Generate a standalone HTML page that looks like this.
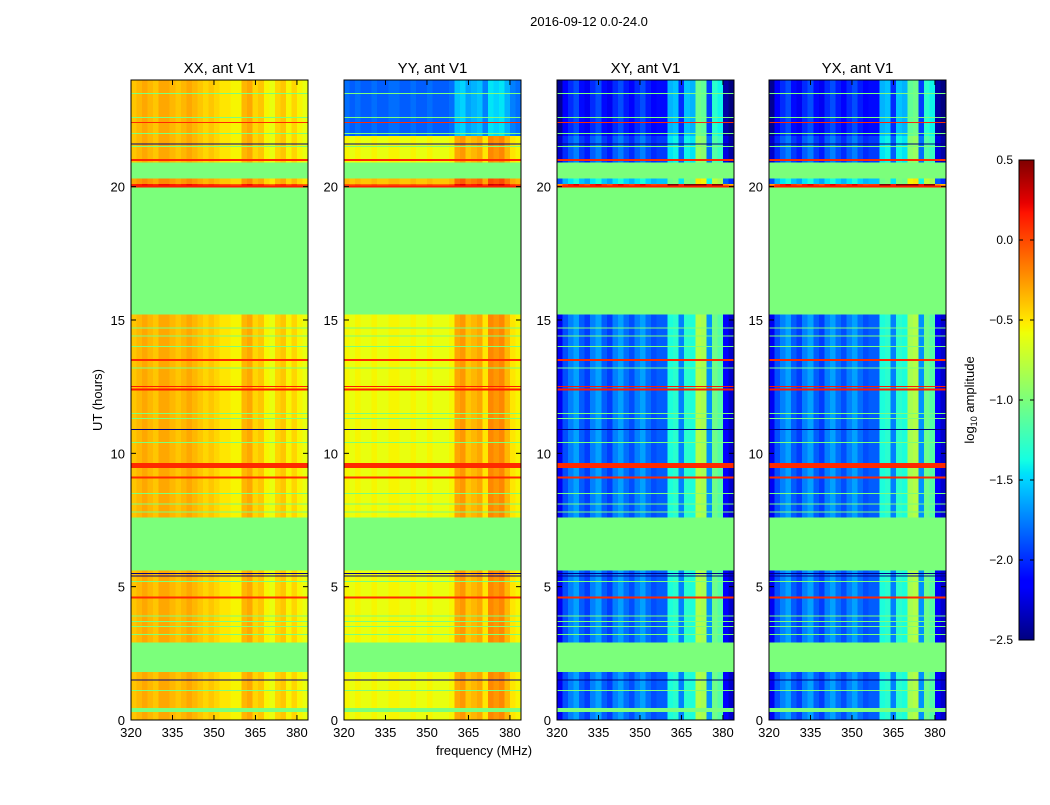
<!DOCTYPE html>
<html><head><meta charset="utf-8">
<style>
html,body{margin:0;padding:0;background:#fff;}
svg text{font-family:"Liberation Sans","DejaVu Sans",sans-serif;fill:#000;}
</style></head>
<body>
<svg id="fig" xmlns="http://www.w3.org/2000/svg" width="1050" height="800" viewBox="0 0 1050 800">
<rect width="1050" height="800" fill="#fff"/>
<text x="589" y="26" font-size="13" text-anchor="middle">2016-09-12 0.0-24.0</text>
<text x="484" y="755" font-size="13" text-anchor="middle">frequency (MHz)</text>
<text transform="translate(102,400) rotate(-90)" font-size="13" text-anchor="middle">UT (hours)</text>
<text transform="translate(974,400) rotate(-90)" font-size="13" text-anchor="middle">log<tspan font-size="9" dy="3">10</tspan><tspan dy="-3"> amplitude</tspan></text>
<g id="panels"></g>
<g id="cbar"></g>
</svg>
<script>
// ---- data ----
const panelTitles = ["XX, ant V1","YY, ant V1","XY, ant V1","YX, ant V1"];
const freqBins = [320,322,324,326,328,330,332,334,336,338,340,342,344,346,348,350,352,354,356,358,360,362,364,366,368,370,372,374,376,378,380,382];
const profileXX = [-0.4,-0.35,-0.3,-0.35,-0.4,-0.3,-0.3,-0.35,-0.4,-0.35,-0.3,-0.35,-0.4,-0.45,-0.4,-0.45,-0.5,-0.5,-0.55,-0.55,-0.35,-0.3,-0.45,-0.4,-0.55,-0.6,-0.45,-0.4,-0.55,-0.45,-0.55,-0.6];
const profileYY = [-0.55,-0.6,-0.55,-0.6,-0.6,-0.55,-0.6,-0.6,-0.55,-0.55,-0.6,-0.6,-0.55,-0.6,-0.6,-0.55,-0.6,-0.6,-0.6,-0.55,-0.3,-0.25,-0.4,-0.35,-0.3,-0.5,-0.2,-0.25,-0.2,-0.35,-0.5,-0.55];
const profileXY = [-2.2,-1.9,-1.75,-1.65,-1.85,-1.95,-1.75,-1.65,-1.85,-1.95,-1.75,-1.65,-1.8,-1.9,-1.75,-1.65,-1.8,-1.9,-1.85,-1.85,-1.35,-1.3,-1.75,-1.3,-1.35,-0.8,-0.85,-1.7,-1.05,-1.15,-2.15,-2.3];
const profileYX = [-2.2,-1.9,-1.75,-1.65,-1.85,-1.95,-1.75,-1.65,-1.85,-1.95,-1.75,-1.65,-1.8,-1.9,-1.75,-1.65,-1.8,-1.9,-1.85,-1.85,-1.35,-1.3,-1.75,-1.3,-1.35,-0.85,-0.8,-1.7,-1.05,-1.15,-2.15,-2.3];
// time segments: start hour, end hour, flagged (1 = flagged/green)
const segStart = [0.0,0.3,0.45,1.8,2.9,5.6,7.6,15.2,20.0,20.1,20.3,20.9,21.9];
const segEnd   = [0.3,0.45,1.8,2.9,5.6,7.6,15.2,20.0,20.1,20.3,20.9,21.9,24.0];
const segFlag  = [0,1,0,1,0,1,0,1,0,0,1,0,0];
// per-panel offsets for each segment
const offXX = [0,0,0,0,0,0,0,0,0.5,0.1,0,0,0.0];
const offYY = [0,0,0,0,0,0,0,0,0.5,0.2,0,0,-1.25];
const offXY = [0,0,0,0,0,0,0,0,1.9,0.3,0,-0.1,-0.25];
const offYX = [0,0,0,0,0,0,0,0,1.9,0.3,0,-0.1,-0.25];
// thin horizontal lines: hour, value
const lineHours = [0.35,1.1,1.5,3.2,3.5,3.7,3.9,4.6,5.2,5.4,5.5,7.8,8.1,8.5,9.1,9.5,9.6,10.4,10.9,11.3,11.5,12.4,12.5,13.2,13.5,14.0,14.4,14.7,20.0,21.0,21.5,21.6,22.0,22.4,22.6,23.5];
const lineVals  = [-1.0,-1.0,-2.5,-1.0,-1.0,-1.0,-1.0,0.1,-1.0,-2.5,-2.5,-1.0,-1.0,-1.0,0.1,0.1,0.1,-1.0,-2.5,-1.0,-1.0,0.15,0.15,-1.0,0.1,-1.0,-1.0,-1.0,0.15,0.1,-1.0,-2.5,-1.0,0.1,-1.0,-1.0];
const lineW     = [2,1,1,1,1,1,1,2,1,1,1,1,1,1,2,3,2,1,1,1,1,2,1,1,2,1,1,1,2,2,1,1,1,1,1,1];
const yTicks = [0,5,10,15,20];
const xTicks = [320,335,350,365,380];
const cbTicks = [-2.5,-2.0,-1.5,-1.0,-0.5,0.0,0.5];
const profiles=[profileXX,profileYY,profileXY,profileYX];
const offsets=[offXX,offYY,offXY,offYX];

// ---- layout ----
const panelX=[131,344,557,769], PW=177, PY0=80, PH=640;
const FMIN=320, FMAX=384, TMIN=0, TMAX=24, VMIN=-2.5, VMAX=0.5;
const NS="http://www.w3.org/2000/svg";
const JR=[[0,0],[0.35,0],[0.66,1],[0.89,1],[1,0.5]];
const JG=[[0,0],[0.125,0],[0.375,1],[0.64,1],[0.91,0],[1,0]];
const JB=[[0,0.5],[0.11,1],[0.34,1],[0.65,0],[1,0]];
function interp(tab,t){for(let i=1;i<tab.length;i++){if(t<=tab[i][0]){const a=tab[i-1],b=tab[i];return a[1]+(b[1]-a[1])*(t-a[0])/(b[0]-a[0]);}}return tab[tab.length-1][1];}
function jet(v){
  let t=(v-VMIN)/(VMAX-VMIN); t=Math.max(0,Math.min(1,t));
  return `rgb(${Math.round(interp(JR,t)*255)},${Math.round(interp(JG,t)*255)},${Math.round(interp(JB,t)*255)})`;
}
function mk(tag,attrs,parent){const e=document.createElementNS(NS,tag);for(const k in attrs)e.setAttribute(k,attrs[k]);parent.appendChild(e);return e;}
const panels=document.getElementById('panels');
panelX.forEach((px,p)=>{
  const xs=f=>px+(f-FMIN)/(FMAX-FMIN)*PW;
  const ys=t=>PY0+PH-(t-TMIN)/(TMAX-TMIN)*PH;
  const g=mk('g',{},panels);
  
  
  const hm=mk('g',{'shape-rendering':'crispEdges'},g);
  
  
  for(let s=0;s<segStart.length;s++){
    const y1=ys(segEnd[s]), y2=ys(segStart[s]);
    if(segFlag[s]){
      const r=mk('rect',{x:px,y:y1,width:PW,height:y2-y1,fill:jet(-1.0)},hm);
      
      
      continue;
    }
    freqBins.forEach((f,c)=>{
      const x1=xs(f), x2=xs(f+2);
      const r=mk('rect',{x:x1,y:y1,width:x2-x1+0.3,height:y2-y1,fill:jet(profiles[p][c]+offsets[p][s])},hm);
      
      
    });
  }
  lineHours.forEach((h,i)=>{
    if(h>=15.2&&h<20)return;
    const r=mk('rect',{x:px,y:ys(h)-lineW[i]/2,width:PW,height:lineW[i],fill:jet(lineVals[i])},hm);
    
    
  });
  const fr=mk('rect',{x:px,y:PY0,width:PW,height:PH,fill:'none',stroke:'#000','stroke-width':1},g);
  
  
  const tt=mk('text',{x:px+PW/2,y:73,'font-size':15,'text-anchor':'middle'},g);
  tt.textContent=panelTitles[p];
  
  
  yTicks.forEach(t=>{
    const y=ys(t);
    mk('line',{x1:px,x2:px+5,y1:y,y2:y,stroke:'#000'},g);
    mk('line',{x1:px+PW-5,x2:px+PW,y1:y,y2:y,stroke:'#000'},g);
    const l=mk('text',{x:px-6,y:y+5,'font-size':13,'text-anchor':'end'},g);
    l.textContent=t;
    
    
  });
  xTicks.forEach(f=>{
    const x=xs(f);
    mk('line',{x1:x,x2:x,y1:PY0+PH,y2:PY0+PH-5,stroke:'#000'},g);
    mk('line',{x1:x,x2:x,y1:PY0,y2:PY0+5,stroke:'#000'},g);
    const l=mk('text',{x:x,y:PY0+PH+17,'font-size':13,'text-anchor':'middle'},g);
    l.textContent=f;
    
    
  });
});
// colorbar
const cb=document.getElementById('cbar');


const CX=1019,CW=15,CY=160,CH=480;
const cys=v=>CY+CH-(v-VMIN)/(VMAX-VMIN)*CH;
for(let i=0;i<CH;i++){
  const v=VMIN+(i+0.5)/CH*(VMAX-VMIN);
  mk('rect',{x:CX,y:CY+CH-i-1,width:CW,height:1.2,fill:jet(v),'shape-rendering':'crispEdges'},cb);
}
mk('rect',{x:CX,y:CY,width:CW,height:CH,fill:'none',stroke:'#000'},cb);
cbTicks.forEach(v=>{
  const y=cys(v);
  mk('line',{x1:CX,x2:CX+4,y1:y,y2:y,stroke:'#000'},cb);
  mk('line',{x1:CX+CW-4,x2:CX+CW,y1:y,y2:y,stroke:'#000'},cb);
  const l=mk('text',{x:1013,y:y+4,'font-size':12,'text-anchor':'end'},cb);
  l.textContent=v.toFixed(1).replace('-','\u2212');
  
  
});
</script>
</body></html>
